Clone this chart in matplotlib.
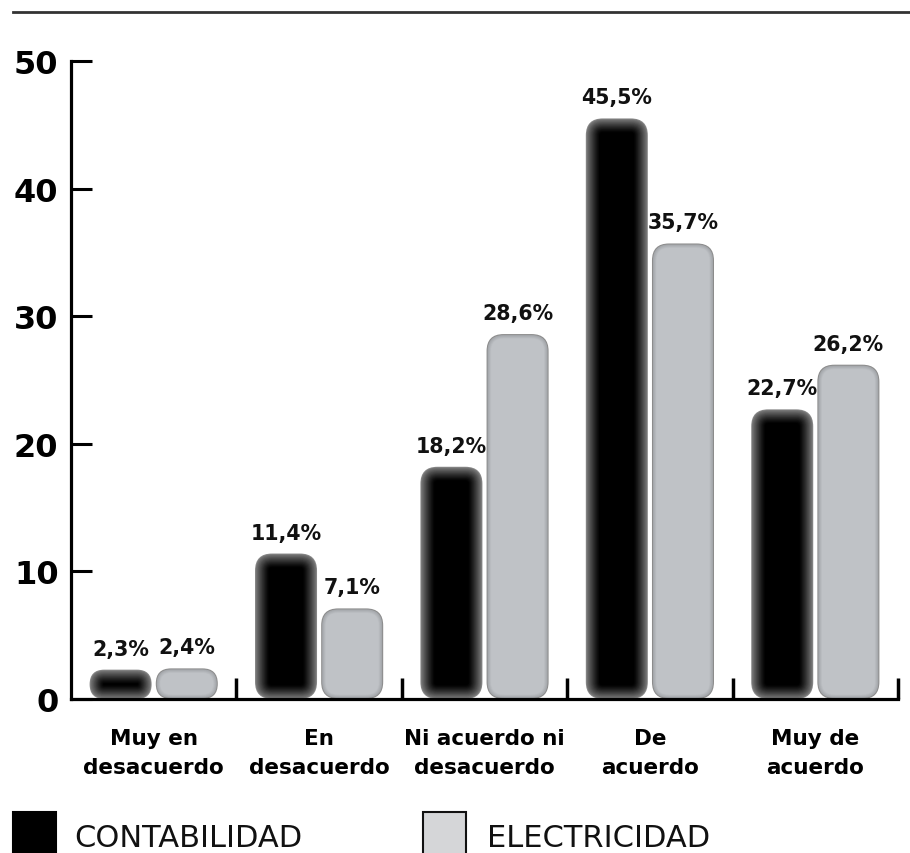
import matplotlib
matplotlib.use("Agg")
import matplotlib.pyplot as plt
from matplotlib.patches import FancyBboxPatch, Rectangle
from matplotlib.lines import Line2D
import numpy as np

categories = ["Muy en\ndesacuerdo", "En\ndesacuerdo", "Ni acuerdo ni\ndesacuerdo", "De\nacuerdo", "Muy de\nacuerdo"]
series_names = ["CONTABILIDAD", "ELECTRICIDAD"]
contabilidad = [2.3, 11.4, 18.2, 45.5, 22.7]
electricidad = [2.4, 7.1, 28.6, 35.7, 26.2]
yticks = [0, 10, 20, 30, 40, 50]

W, H = 910, 854
fig = plt.figure(figsize=(W / 100, H / 100), dpi=100)
ax_l, ax_r, ax_b, ax_t = 71, 898, 700, 62
ax = fig.add_axes([ax_l / W, (H - ax_b) / H, (ax_r - ax_l) / W, (ax_b - ax_t) / H])
ax.set_xlim(-0.5, len(categories) - 0.5)
ax.set_ylim(0, 50)

pxx = (ax_r - ax_l) / len(categories)   # pixels per x unit
pxy = (ax_b - ax_t) / 50.0              # pixels per y unit
aspect = pxx / pxy

bar_w = 0.375
offs = [-0.2, 0.2]
R_PX = 17.0


def rbox(xc, top, inset_px, color, ec="none", lw=0, z=2):
    w_px = bar_w * pxx - 2 * inset_px
    h_px = top * pxy - 2 * inset_px
    if w_px <= 0.5 or h_px <= 0.5:
        return False
    r_px = max(min(R_PX - inset_px, w_px / 2, h_px / 2), 0.5)
    x0 = xc - w_px / 2 / pxx
    y0 = inset_px / pxy
    p = FancyBboxPatch((x0, y0), w_px / pxx, h_px / pxy,
                       boxstyle=f"round,pad=0,rounding_size={r_px / pxx}",
                       mutation_aspect=aspect, facecolor=color, edgecolor=ec,
                       linewidth=lw, zorder=z)
    ax.add_patch(p)
    return True


x = np.arange(len(categories))
for i, v in enumerate(contabilidad):
    xc = x[i] + offs[0]
    rbox(xc, v, 0, "#8a8a8a", z=2)
    d = 0.8
    while d < 18:
        t = min(d / 14.0, 1.0)
        g = 0.50 * (1 - t) ** 1.3
        if not rbox(xc, v, d, (g, g, g), z=2 + d / 100):
            break
        d += 0.7

for i, v in enumerate(electricidad):
    xc = x[i] + offs[1]
    rbox(xc, v, 0, "#8c8c8c", z=2)
    d = 1.0
    while d < 5:
        t = min((d - 1.0) / 3.5, 1.0)
        c0 = np.array([0.64, 0.65, 0.665])
        c1 = np.array([0.75, 0.762, 0.776])
        if not rbox(xc, v, d, tuple(c0 + (c1 - c0) * t), z=2 + d / 100):
            break
        d += 0.5

# value labels
for vals, off in zip([contabilidad, electricidad], offs):
    for i, v in enumerate(vals):
        ax.annotate(f"{v:.1f}".replace(".", ",") + "%", (x[i] + off, v),
                    xytext=(0, 11), textcoords="offset pixels",
                    ha="center", va="bottom", fontsize=14.8, fontweight="bold",
                    color="#111111")

# axes styling
for s in ["top", "right"]:
    ax.spines[s].set_visible(False)
ax.spines["left"].set_linewidth(2.3)
ax.spines["bottom"].set_linewidth(2.3)
ax.spines["left"].set_capstyle("projecting")
ax.spines["bottom"].set_capstyle("projecting")

ax.set_yticks(yticks)
ax.set_yticklabels([str(t) for t in yticks], fontsize=23, fontweight="bold")
ax.tick_params(axis="y", direction="in", length=15, width=2.2, pad=9)

ax.set_xticks(x)
ax.set_xticklabels(categories, fontsize=15.5, fontweight="bold", linespacing=1.55)
ax.tick_params(axis="x", which="major", length=0, pad=21)
ax.set_xticks(np.arange(0.5, len(categories), 1.0), minor=True)
ax.tick_params(axis="x", which="minor", direction="in", length=15, width=2.5)

# top rule
fig.add_artist(Line2D([13 / W, 1.0], [1 - 13 / H, 1 - 13 / H], color="#333333",
                      linewidth=2, transform=fig.transFigure))

# legend
leg_x = [13, 423]
txt_x = [74, 487]
fills = ["#000000", "#d5d6d8"]
edges = ["#000000", "#111111"]
for lx, tx, fc, ecol, name in zip(leg_x, txt_x, fills, edges, series_names):
    fig.add_artist(Rectangle((lx / W, -10 / H), 43 / W, (H - 813 + 10) / H,
                             facecolor=fc, edgecolor=ecol, linewidth=1.5,
                             transform=fig.transFigure))
    fig.text(tx / W, 1 / H, name, fontsize=22, ha="left", va="bottom",
             color="#111111")

fig.savefig("out.png", dpi=100)
